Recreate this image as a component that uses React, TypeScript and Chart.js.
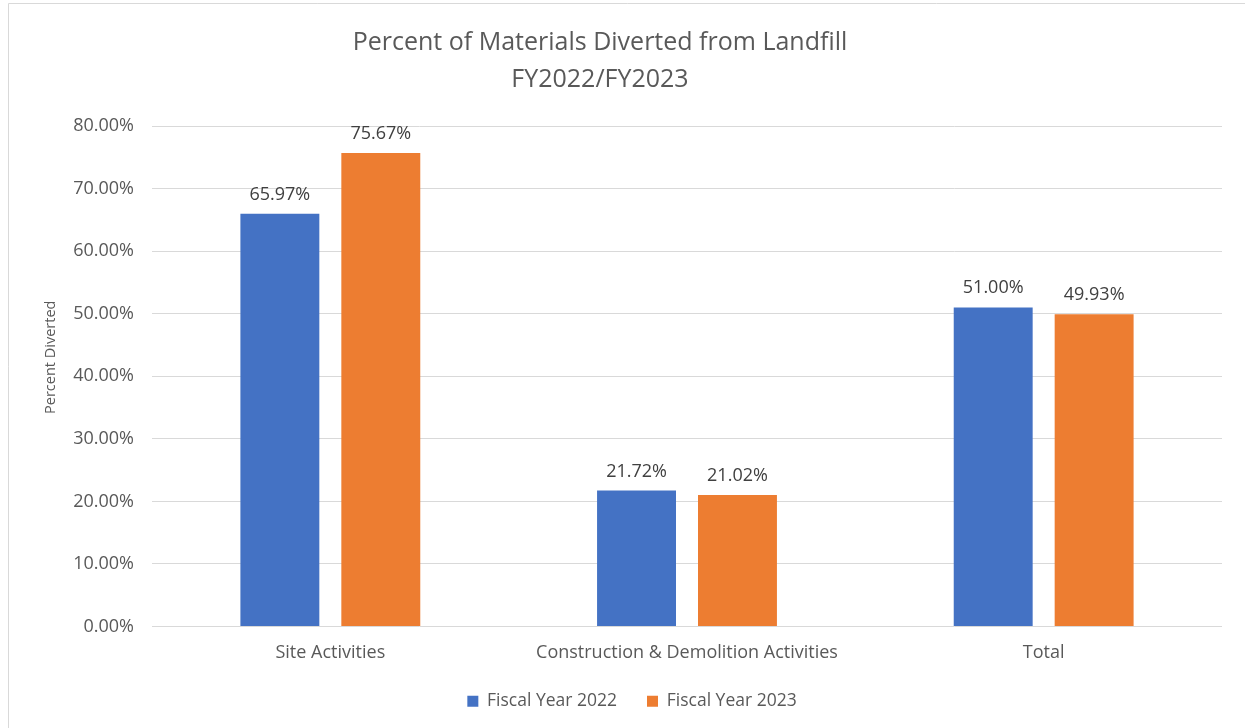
import React, { useEffect, useRef } from "react";
import { Chart, registerables } from "chart.js";

Chart.register(...registerables);

const categories = ["Site Activities", "Construction & Demolition Activities", "Total"];
const fy2022 = [65.97, 21.72, 51.0];
const fy2023 = [75.67, 21.02, 49.93];
const seriesNames = ["Fiscal Year 2022", "Fiscal Year 2023"];
const titleLines = ["Percent of Materials Diverted from Landfill", "FY2022/FY2023"];
const yAxisTitle = "Percent Diverted";
const yMin = 0;
const yMax = 80;
const yStep = 10;

const FONT = "'Open Sans', sans-serif";
const GRAY = "#595959";

const framePlugin = {
  id: "frame",
  beforeDraw(chart: any) {
    const { ctx, width, height } = chart;
    ctx.save();
    ctx.fillStyle = "#ffffff";
    ctx.fillRect(0, 0, width, height);
    ctx.strokeStyle = "#d9d9d9";
    ctx.lineWidth = 1;
    ctx.beginPath();
    ctx.moveTo(8.5, height + 5);
    ctx.lineTo(8.5, 3.5);
    ctx.lineTo(width + 5, 3.5);
    ctx.stroke();
    ctx.restore();
  },
};

const titlePlugin = {
  id: "customTitle",
  afterDraw(chart: any) {
    const { ctx, chartArea } = chart;
    ctx.save();
    ctx.fillStyle = GRAY;
    ctx.font = `25px ${FONT}`;
    ctx.textAlign = "center";
    ctx.textBaseline = "alphabetic";
    const baselines = [49.5, 87];
    titleLines.forEach((line, i) => ctx.fillText(line, 600, baselines[i]));
    // y-axis title, centred a little above the plot middle as in the original
    ctx.font = `14.5px ${FONT}`;
    ctx.textBaseline = "middle";
    ctx.translate(51, chartArea.top + (chartArea.bottom - chartArea.top) * 0.462);
    ctx.rotate(-Math.PI / 2);
    ctx.fillText(yAxisTitle, 0, 0);
    ctx.restore();
  },
};

const labelPlugin = {
  id: "valueLabels",
  afterDatasetsDraw(chart: any) {
    const { ctx } = chart;
    ctx.save();
    ctx.fillStyle = "#404040";
    ctx.font = `18px ${FONT}`;
    ctx.textAlign = "center";
    ctx.textBaseline = "alphabetic";
    chart.data.datasets.forEach((ds: any, di: number) => {
      const meta = chart.getDatasetMeta(di);
      meta.data.forEach((el: any, i: number) => {
        const v = ds.data[i] as number;
        ctx.fillText(v.toFixed(2) + "%", el.x, el.y - 14);
      });
    });
    ctx.restore();
  },
};

export default function App() {
  const ref = useRef<HTMLCanvasElement | null>(null);

  useEffect(() => {
    if (!ref.current) return;
    const chart = new Chart(ref.current, {
      type: "bar",
      data: {
        labels: categories,
        datasets: [
          {
            label: seriesNames[0],
            data: fy2022,
            backgroundColor: "#4472C4",
            barPercentage: 0.782,
            categoryPercentage: 0.566,
          },
          {
            label: seriesNames[1],
            data: fy2023,
            backgroundColor: "#ED7D31",
            barPercentage: 0.782,
            categoryPercentage: 0.566,
          },
        ],
      },
      options: {
        responsive: false,
        maintainAspectRatio: false,
        animation: false,
        layout: { padding: { left: 42, right: 23, top: 126, bottom: 8 } },
        plugins: {
          title: { display: false },
          tooltip: { enabled: false },
          legend: {
            display: true,
            position: "bottom",
            labels: {
              boxWidth: 11,
              boxHeight: 11,
              padding: 30,
              color: GRAY,
              font: { family: FONT, size: 17.5 },
            },
          },
        },
        scales: {
          x: {
            grid: { display: false },
            border: { display: false },
            ticks: { color: GRAY, font: { family: FONT, size: 18 }, padding: 8 },
            afterFit: (s: any) => {
              s.height = 36;
              s._computeLabelArea = () => undefined;
            },
          },
          y: {
            min: yMin,
            max: yMax,
            grid: { color: "#d9d9d9", lineWidth: 1, drawTicks: false },
            border: { display: false },
            ticks: {
              stepSize: yStep,
              color: GRAY,
              font: { family: FONT, size: 18 },
              padding: 18,
              callback: (v: any) => Number(v).toFixed(2) + "%",
            },
            afterFit: (s: any) => {
              s.width = 110;
            },
          },
        },
      },
      plugins: [framePlugin, titlePlugin, labelPlugin],
    });
    return () => chart.destroy();
  }, []);

  return (
    <div style={{ position: "fixed", left: 0, top: 0, width: 1245, height: 728, overflow: "hidden", background: "#fff" }}>
      <canvas ref={ref} width={1245} height={728} style={{ width: 1245, height: 728, display: "block" }} />
    </div>
  );
}
